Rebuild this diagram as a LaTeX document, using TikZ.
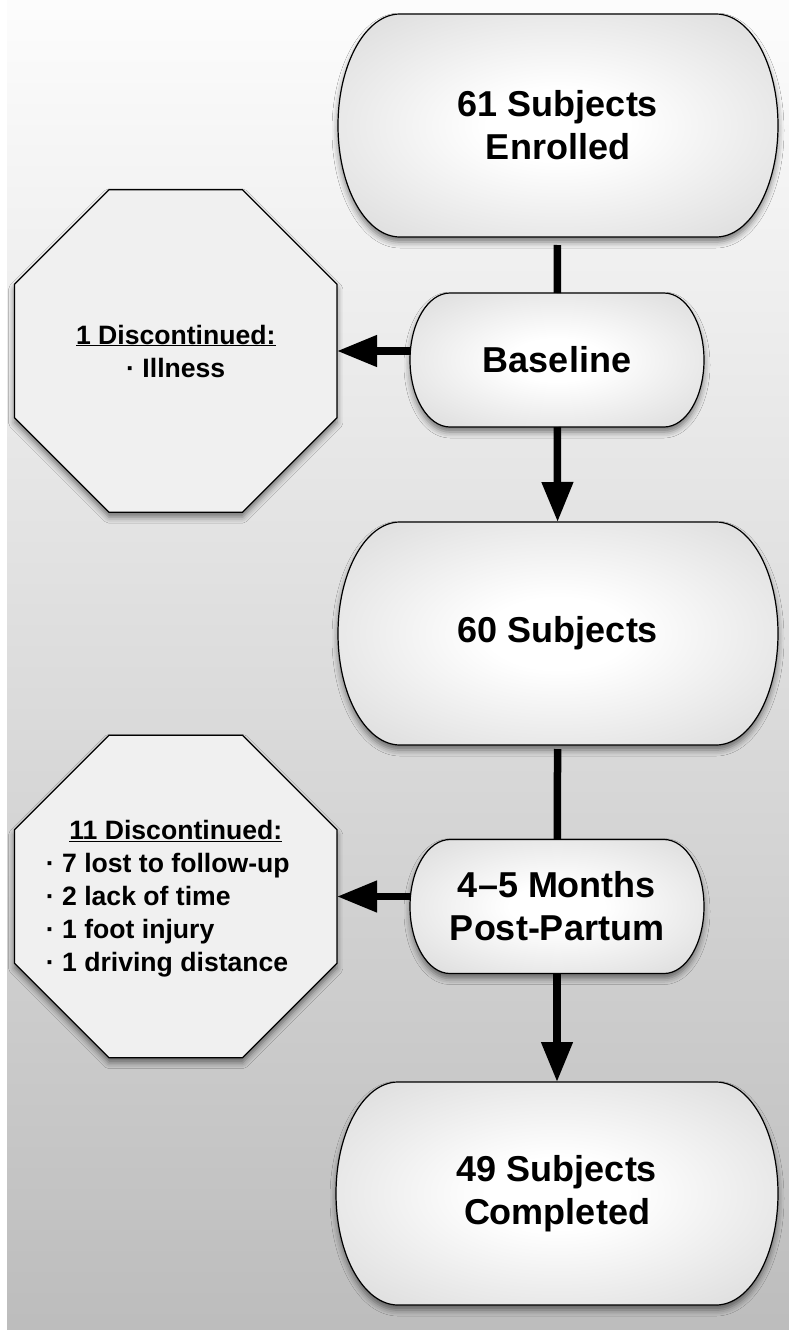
\documentclass[tikz,border=0pt]{standalone}
\usepackage{fontspec}
\setmainfont{Liberation Sans}
\usetikzlibrary{positioning,shapes.geometric,arrows.meta,shadows.blur}

\pgfdeclareradialshading{boxglow}{\pgfpoint{0bp}{0bp}}{color(0bp)=(white); color(8bp)=(white); color(50bp)=(black!22); color(75bp)=(black!26)}

\tikzset{
  softshadow/.style={blur shadow={shadow xshift=0pt, shadow yshift=-5pt, shadow blur radius=6pt, shadow opacity=50}},
  stage/.style={rectangle, inner sep=0pt, outer sep=0pt, align=center,
    font=\bfseries\fontsize{36}{43}\selectfont},
  bigstage/.style={stage, minimum width=440pt, minimum height=223pt},
  smallstage/.style={stage, minimum width=294pt, minimum height=134pt},
  stageshape/.style={draw, line width=1.2pt, shading=boxglow, softshadow},
  dropout/.style={regular polygon, regular polygon sides=8, minimum size=349pt, inner sep=0pt,
    outer sep=0pt, draw, line width=1.2pt, fill=black!6, softshadow},
  dropnote/.style={align=center, inner sep=0pt, font=\bfseries\fontsize{26.6}{33}\selectfont},
  link/.style={draw=black, line width=7.5pt},
  flow/.style={link, -{Triangle[width=30pt,length=40pt,fill=black]}},
}

\begin{document}
\begin{tikzpicture}[x=1pt,y=-1pt]
  \useasboundingbox (0,0) rectangle (789,1330);
  \fill[white] (0,0) rectangle (789,1330);
  \fill[top color=black!1, bottom color=black!26] (7,0) rectangle (789,1330);

  % flat top and bottom, half ellipses at the sides
  \foreach \cx/\cy/\hw/\hh/\rx in {558/125.5/220/111.5/62, 557/360/147/67/40,
      558/633.5/220/111.5/62, 557/906.5/147/67/40, 557/1193.5/221/111.5/62}
    \path[stageshape] (\cx-\hw+\rx,\cy-\hh) -- (\cx+\hw-\rx,\cy-\hh)
      arc[start angle=90, end angle=-90, x radius=\rx pt, y radius=\hh pt]
      -- (\cx-\hw+\rx,\cy+\hh)
      arc[start angle=270, end angle=90, x radius=\rx pt, y radius=\hh pt] -- cycle;

  \node[bigstage] (enrol) at (558,125.5) {61 Subjects\\Enrolled};
  \node[smallstage] (base) at (557,360) {Baseline};
  \node[bigstage] (sixty) at (558,633.5) {60 Subjects};
  \node[smallstage] (post) at (557,906.5) {4–5 Months\\Post-Partum};
  \node[bigstage, minimum width=442pt] (done) at (557,1193.5) {49 Subjects\\Completed};

  \node[dropout, left=73pt of base, yshift=9pt,
    label={[dropnote, name=drop1text]center:{\underline{1 Discontinued:}\\· Illness}}] (drop1) {};
  \node[dropout, left=73pt of post, yshift=10pt,
    label={[dropnote, name=drop2text, yshift=-4pt]center:{\underline{11 Discontinued:}\\
     \hspace*{-16pt}\begin{tabular}[t]{@{}l@{}}
       · 7 lost to follow-up\\
       · 2 lack of time\\
       · 1 foot injury\\
       · 1 driving distance
     \end{tabular}}}] (drop2) {};

  \path
  (enrol) edge[link, shorten <=8pt] (base)
  (base) edge[flow] (sixty)
  (sixty) edge[link, shorten <=4pt] (post)
  (post) edge[flow] (done)
  (drop1.east -| base.west) edge[flow] (drop1.east)
  (drop2.east -| post.west) edge[flow] (drop2.east);
\end{tikzpicture}
\end{document}
